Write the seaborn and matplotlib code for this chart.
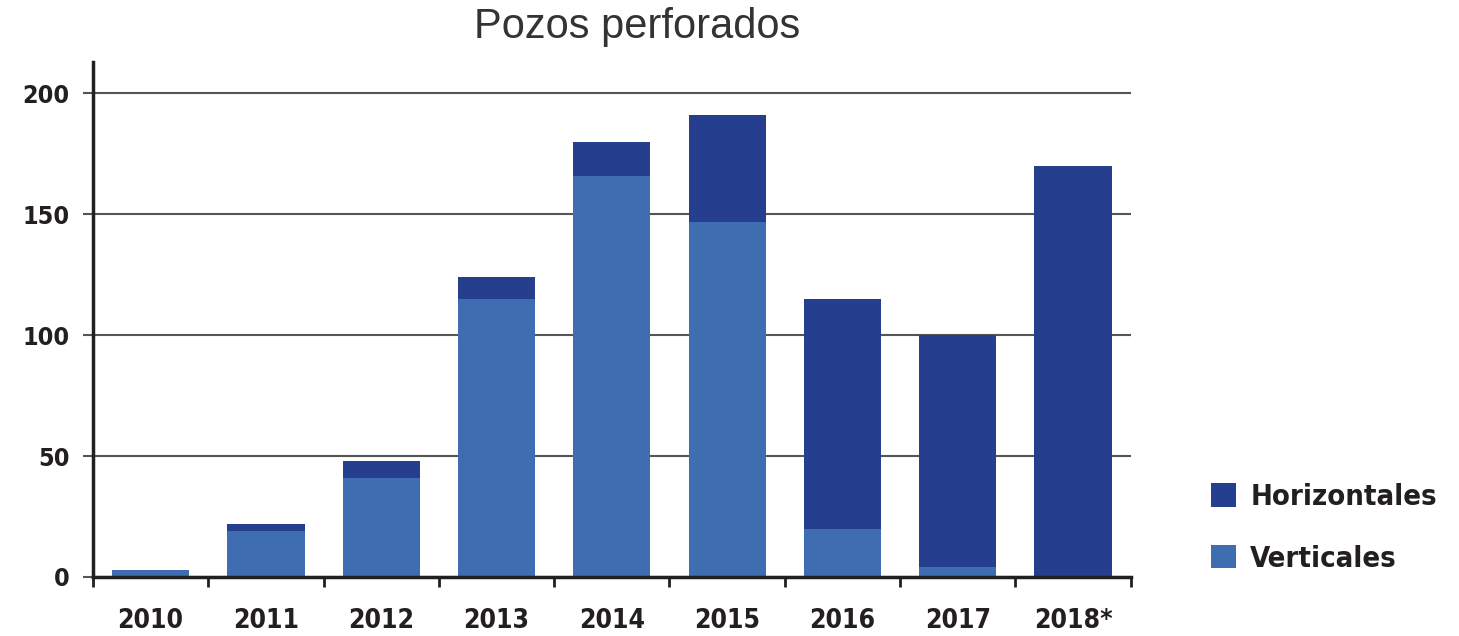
import matplotlib
matplotlib.use("Agg")
import matplotlib.pyplot as plt
import seaborn as sns
import pandas as pd
from matplotlib.patches import Patch
from matplotlib.ticker import FixedLocator

years = ["2010", "2011", "2012", "2013", "2014", "2015", "2016", "2017", "2018*"]
verticales = [3, 19, 41, 115, 166, 147, 20, 4, 0]
horizontales = [0, 3, 7, 9, 14, 44, 95, 96, 170]
totales = [v + h for v, h in zip(verticales, horizontales)]

c_h = "#253F8E"
c_v = "#3F6DB1"
txt = "#231F20"

sns.set_theme(style="white")
plt.rcParams['font.family'] = ['DejaVu Sans']
plt.rcParams['font.stretch'] = 'condensed'

df = pd.DataFrame({"year": years, "total": totales, "vert": verticales})

fig = plt.figure(figsize=(14.59, 6.36), dpi=100)
ax = fig.add_axes([0.0637, 0.0928, 0.7113, 0.8097])

sns.barplot(data=df, x="year", y="total", color=c_h, width=0.67, saturation=1, ax=ax,
            zorder=3, linewidth=0)
sns.barplot(data=df, x="year", y="vert", color=c_v, width=0.67, saturation=1, ax=ax,
            zorder=4, linewidth=0)

ax.set_xlim(-0.5, 8.5)
ax.set_ylim(0, 213)
ax.set_xlabel("")
ax.set_ylabel("")
ax.set_yticks([0, 50, 100, 150, 200])
ax.yaxis.grid(True, color="#555555", linewidth=1.5, zorder=1)
ax.set_axisbelow(True)

for s in ["top", "right"]:
    ax.spines[s].set_visible(False)
for s in ["left", "bottom"]:
    ax.spines[s].set_color("#231F20")
    ax.spines[s].set_linewidth(2.5)
ax.spines["bottom"].set_zorder(5)

ax.tick_params(axis="y", direction="out", length=7, width=1.5, color="#555555",
               labelsize=18, labelcolor=txt, pad=10, left=True)
for lab in ax.get_yticklabels():
    lab.set_fontweight("bold")
    lab.set_fontstretch("condensed")
ax.tick_params(axis="x", which="major", length=0, labelsize=19, labelcolor=txt, pad=22)
for lab in ax.get_xticklabels():
    lab.set_fontweight("bold")
    lab.set_fontstretch("condensed")
ax.xaxis.set_minor_locator(FixedLocator([i - 0.5 for i in range(len(years) + 1)]))
ax.tick_params(axis="x", which="minor", direction="out", length=7, width=2, color="#231F20", bottom=True)

fig.text(0.437, 0.957, "Pozos perforados", ha="center", va="center",
         fontsize=30, color="#333333", family=["Liberation Sans", "DejaVu Sans"],
         fontstretch="normal")

handles = [Patch(facecolor=c_h, edgecolor="none", label="Horizontales"),
           Patch(facecolor=c_v, edgecolor="none", label="Verticales")]
leg = fig.legend(handles=handles, loc="center left", bbox_to_anchor=(0.812, 0.17),
                 frameon=False, handlelength=0.85, handleheight=0.85, handletextpad=0.5,
                 labelspacing=1.15, prop={"size": 21, "weight": "bold", "stretch": "condensed",
                                          "family": ["DejaVu Sans"]})
for t in leg.get_texts():
    t.set_color(txt)

fig.savefig("out.png", dpi=100)
